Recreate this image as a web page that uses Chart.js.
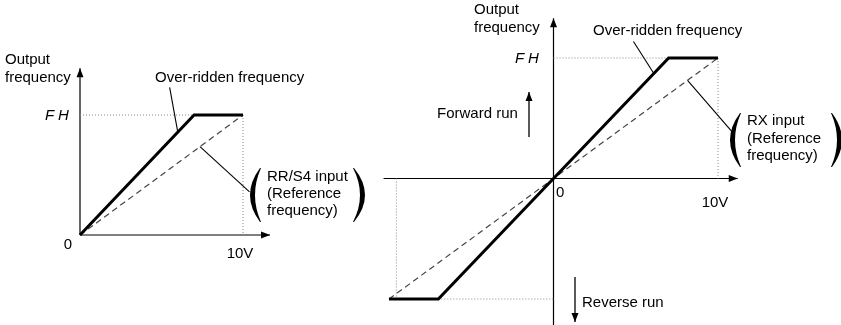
<!DOCTYPE html>
<html>
<head>
<meta charset="utf-8">
<script src="https://cdn.jsdelivr.net/npm/chart.js@4/dist/chart.umd.min.js"></script>
<style>
  body { margin: 0; background: #fff; }
  #wrap { position: relative; width: 841px; height: 325px; }
  #wrap canvas { position: absolute; left: 0; top: 0; }
</style>
</head>
<body>
<div id="wrap">
  <canvas id="leftChart" width="841" height="325"></canvas>
  <canvas id="rightChart" width="841" height="325"></canvas>
</div>
<script>
// Reference input voltage (V) and output frequency (FH = 1)
const voltLeft = [0, 7, 10];
const overLeft = [0, 1, 1];
const refVoltLeft = [0, 10];
const refLeft = [0, 1];

const voltRight = [-10, -7, 0, 7, 10];
const overRight = [-1, -1, 0, 1, 1];
const refVoltRight = [-10, 10];
const refRight = [-1, 1];

// dotted guide lines (pairs of points)
const guideLeftX = [[0, 7], [10, 10]];
const guideLeftY = [[1, 1], [1, 0]];
const guideRightX = [[0, 7], [10, 10], [-7, 0], [-9.55, -9.55]];
const guideRightY = [[1, 1], [1, 0], [-1, -1], [0, -1]];

const FONT = '15px "Liberation Sans", Arial, sans-serif';
const FH_FONT = 'italic 15px "Liberation Sans", Arial, sans-serif';

function pts(xs, ys) {
    return xs.map((x, i) => ({ x: x, y: ys[i] }));
}

function guideSets(gx, gy) {
    return gx.map((xs, i) => ({
        data: pts(xs, gy[i]),
        showLine: true,
        borderColor: '#888',
        borderWidth: 1,
        borderDash: [1, 2],
        clip: false
    }));
}

function arrowLine(ctx, x1, y1, x2, y2) {
    ctx.beginPath();
    ctx.moveTo(x1, y1);
    ctx.lineTo(x2, y2);
    ctx.stroke();
    const a = Math.atan2(y2 - y1, x2 - x1);
    const len = 9, half = 3.5;
    ctx.beginPath();
    ctx.moveTo(x2, y2);
    ctx.lineTo(x2 - len * Math.cos(a) + half * Math.sin(a), y2 - len * Math.sin(a) - half * Math.cos(a));
    ctx.lineTo(x2 - len * Math.cos(a) - half * Math.sin(a), y2 - len * Math.sin(a) + half * Math.cos(a));
    ctx.closePath();
    ctx.fill();
}

// dir -1 = "(" bulging left, +1 = ")" bulging right
function paren(ctx, tipX, yTop, yBot, dir, depth) {
    const mid = (yTop + yBot) / 2;
    ctx.beginPath();
    ctx.moveTo(tipX, yTop);
    ctx.quadraticCurveTo(tipX + dir * 2 * depth, mid, tipX, yBot);
    ctx.lineTo(tipX - dir * 1, yBot);
    ctx.quadraticCurveTo(tipX + dir * 2 * (depth - 4.5), mid, tipX - dir * 1, yTop);
    ctx.closePath();
    ctx.fill();
}

function line(ctx, x1, y1, x2, y2) {
    ctx.beginPath();
    ctx.moveTo(x1, y1);
    ctx.lineTo(x2, y2);
    ctx.stroke();
}

function baseOptions(xMin, xMax, yMin, yMax, padding) {
    return {
        responsive: false,
        animation: false,
        devicePixelRatio: 1,
        layout: { padding: padding },
        plugins: { legend: { display: false }, tooltip: { enabled: false } },
        elements: { point: { radius: 0 } },
        scales: {
            x: { type: 'linear', min: xMin, max: xMax, display: false },
            y: { type: 'linear', min: yMin, max: yMax, display: false }
        }
    };
}

function mainSets(vx, vy, rx, ry) {
    return [
        { data: pts(vx, vy), showLine: true, borderColor: '#000', borderWidth: 3, clip: false },
        { data: pts(rx, ry), showLine: true, borderColor: '#444', borderWidth: 1.2, borderDash: [6, 4], clip: false }
    ];
}

// Left chart: forward only
const leftAxes = {
    id: 'leftAxes',
    beforeDatasetsDraw(chart) {
        const ctx = chart.ctx, x = chart.scales.x, y = chart.scales.y;
        ctx.save();
        ctx.strokeStyle = '#000';
        ctx.fillStyle = '#000';
        ctx.lineWidth = 1.2;
        arrowLine(ctx, x.getPixelForValue(0), y.getPixelForValue(0), x.getPixelForValue(11.66), y.getPixelForValue(0));
        arrowLine(ctx, x.getPixelForValue(0), y.getPixelForValue(0), x.getPixelForValue(0), y.getPixelForValue(1.39));
        ctx.restore();
    },
    afterDraw(chart) {
        const ctx = chart.ctx, x = chart.scales.x, y = chart.scales.y;
        ctx.save();
        ctx.fillStyle = '#000';
        ctx.strokeStyle = '#000';
        ctx.lineWidth = 1.1;
        // leaders
        line(ctx, x.getPixelForValue(5.5), y.getPixelForValue(1.23), x.getPixelForValue(6.0), y.getPixelForValue(6.0 / 7));
        line(ctx, x.getPixelForValue(7.36), y.getPixelForValue(0.736), x.getPixelForValue(10.4), y.getPixelForValue(0.36));
        ctx.font = FONT;
        ctx.textBaseline = 'alphabetic';
        ctx.fillText('Output', 5, 64);
        ctx.fillText('frequency', 5, 82);
        ctx.fillText('Over-ridden frequency', 155, 82);
        ctx.fillText('RR/S4 input', 267, 181);
        ctx.fillText('(Reference', 267, 198);
        ctx.fillText('frequency)', 267, 215);
        ctx.textAlign = 'center';
        ctx.fillText('0', 68, y.getPixelForValue(0) + 14);
        ctx.fillText('10V', x.getPixelForValue(10) - 3, y.getPixelForValue(0) + 23);
        ctx.textAlign = 'left';
        ctx.font = FH_FONT;
        ctx.fillText('F', 45, y.getPixelForValue(1) + 5);
        ctx.fillText('H', 58, y.getPixelForValue(1) + 5);
        paren(ctx, 260, 168, 222, -1, 10);
        paren(ctx, 354, 168, 222, 1, 11);
        ctx.restore();
    }
};

new Chart(document.getElementById('leftChart'), {
    type: 'scatter',
    data: { datasets: mainSets(voltLeft, overLeft, refVoltLeft, refLeft).concat(guideSets(guideLeftX, guideLeftY)) },
    options: baseOptions(0, 10, 0, 1, { left: 80, right: 598, top: 115, bottom: 90 }),
    plugins: [leftAxes]
});

// Right chart: forward and reverse
const rightAxes = {
    id: 'rightAxes',
    beforeDatasetsDraw(chart) {
        const ctx = chart.ctx, x = chart.scales.x, y = chart.scales.y;
        ctx.save();
        ctx.strokeStyle = '#000';
        ctx.fillStyle = '#000';
        ctx.lineWidth = 1.2;
        arrowLine(ctx, x.getPixelForValue(-10.33), y.getPixelForValue(0), x.getPixelForValue(11.2), y.getPixelForValue(0));
        arrowLine(ctx, x.getPixelForValue(0), y.getPixelForValue(-1.22), x.getPixelForValue(0), y.getPixelForValue(1.33));
        ctx.restore();
    },
    afterDraw(chart) {
        const ctx = chart.ctx, x = chart.scales.x, y = chart.scales.y;
        ctx.save();
        ctx.fillStyle = '#000';
        ctx.strokeStyle = '#000';
        ctx.lineWidth = 1.1;
        line(ctx, x.getPixelForValue(4.86), y.getPixelForValue(1.137), x.getPixelForValue(6.1), y.getPixelForValue(6.1 / 7));
        line(ctx, x.getPixelForValue(8.15), y.getPixelForValue(0.815), x.getPixelForValue(10.9), y.getPixelForValue(0.38));
        ctx.lineWidth = 1.3;
        arrowLine(ctx, 529, 137, 529, 92);
        arrowLine(ctx, 575, 277, 575, 322);
        ctx.font = FONT;
        ctx.fillText('Output', 474, 14);
        ctx.fillText('frequency', 474, 32);
        ctx.fillText('Over-ridden frequency', 593, 35);
        ctx.fillText('Forward run', 437, 118);
        ctx.fillText('Reverse run', 582, 307);
        ctx.fillText('RX input', 747, 125);
        ctx.fillText('(Reference', 747, 143);
        ctx.fillText('frequency)', 747, 160);
        ctx.fillText('0', 556, y.getPixelForValue(0) + 18);
        ctx.textAlign = 'center';
        ctx.fillText('10V', x.getPixelForValue(10) - 3, y.getPixelForValue(0) + 28);
        ctx.textAlign = 'left';
        ctx.font = FH_FONT;
        ctx.fillText('F', 515, y.getPixelForValue(1) + 5);
        ctx.fillText('H', 528, y.getPixelForValue(1) + 5);
        paren(ctx, 740, 113, 167, -1, 10);
        paren(ctx, 832, 113, 167, 1, 10);
        ctx.restore();
    }
};

new Chart(document.getElementById('rightChart'), {
    type: 'scatter',
    data: { datasets: mainSets(voltRight, overRight, refVoltRight, refRight).concat(guideSets(guideRightX, guideRightY)) },
    options: baseOptions(-10, 10, -1, 1, { left: 389, right: 123, top: 58, bottom: 26 }),
    plugins: [rightAxes]
});
</script>
</body>
</html>
